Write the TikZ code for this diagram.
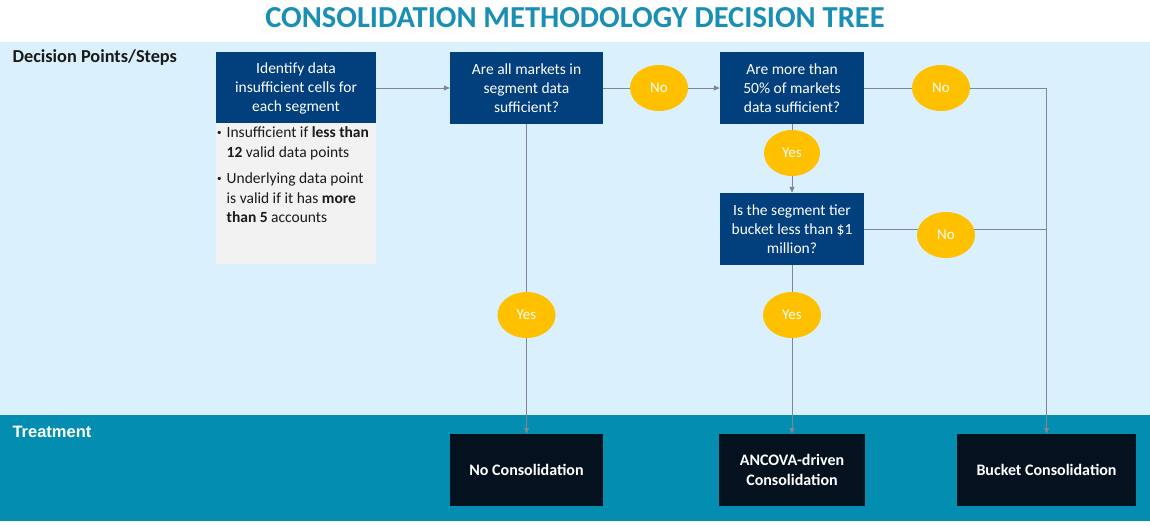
\documentclass[tikz,border=0pt]{standalone}
\usepackage{fontspec}
\setmainfont{Carlito}
\newfontfamily\arialf{Liberation Sans}
\usetikzlibrary{arrows.meta,shapes.geometric}
\definecolor{lightband}{HTML}{DAF0FC}
\definecolor{tealband}{HTML}{028DB1}
\definecolor{titlec}{HTML}{1A8FB5}
\definecolor{dblue}{HTML}{023F7D}
\definecolor{yellowc}{HTML}{FFC000}
\definecolor{blackbox}{HTML}{04111E}
\definecolor{grayfill}{HTML}{F2F2F2}
\definecolor{linec}{HTML}{7F8790}
\definecolor{darktext}{HTML}{1A1A1A}
\newcommand{\smbul}{\raisebox{2pt}{\fontsize{9}{9}\selectfont\textbullet}}
\begin{document}
\begin{tikzpicture}[x=1pt,y=-1pt,
  qbox/.style={fill=dblue, text=white, align=center, minimum height=72pt, inner sep=2pt, font=\fontsize{15.5}{19}\selectfont},
  tbox/.style={fill=blackbox, text=white, align=center, minimum height=72pt, inner sep=2pt, font=\bfseries\fontsize{16}{19.5}\selectfont},
  oval/.style={ellipse, fill=yellowc, text=white, minimum width=58pt, minimum height=46pt, inner sep=0pt, font=\fontsize{15}{17}\selectfont},
  conn/.style={draw=linec, line width=1pt},
  arr/.style={conn, -{Triangle[length=6pt,width=5pt]}}]
\useasboundingbox (0,0) rectangle (1150,525);
\fill[white] (0,0) rectangle (1150,525);
\fill[lightband] (0,42) rectangle (1150,415);
\fill[tealband] (0,415) rectangle (1150,521);

\node[font=\bfseries\fontsize{30.5}{36}\selectfont, text=titlec] (title) at (575,18) {CONSOLIDATION METHODOLOGY DECISION TREE};
\node[anchor=west, font=\bfseries\fontsize{18.3}{22}\selectfont, text=darktext] (lab1) at (9,58) {Decision Points/Steps};
\node[anchor=west, font=\arialf\bfseries\fontsize{16.5}{20}\selectfont, text=white] (lab2) at (9,432) {Treatment};

% boxes
\node[qbox, minimum width=160pt] (b1) at (296,88) {Identify data\\insufficient cells for\\each segment};
\node[fill=grayfill, minimum width=160pt, minimum height=141pt, inner sep=0pt] (g) at (296,193.5) {};
\node[anchor=north west, inner sep=0pt, text=darktext, font=\fontsize{15.5}{19.5}\selectfont] (gt) at (217,124)
 {\begin{tabular}{@{}l@{\hspace{5pt}}l@{}}
  \smbul & Insufficient if \textbf{less than}\\
  & \textbf{12} valid data points\\[7pt]
  \smbul & Underlying data point\\
  & is valid if it has \textbf{more}\\
  & \textbf{than 5} accounts
 \end{tabular}};
\node[qbox, minimum width=153pt] (b2) at (526.5,88) {Are all markets in\\segment data\\sufficient?};
\node[qbox, minimum width=144pt] (b3) at (792,88) {Are more than\\50\% of markets\\data sufficient?};
\node[qbox, minimum width=144pt] (b4) at (792,229) {Is the segment tier\\bucket less than \$1\\million?};

\node[tbox, minimum width=153pt] (nc) at (526.5,470) {No Consolidation};
\node[tbox, minimum width=146pt] (an) at (792,470) {ANCOVA-driven\\Consolidation};
\node[tbox, minimum width=179pt] (bk) at (1046.5,470) {Bucket Consolidation};

% connectors
\draw[arr] (b1.east) -- (b2.west);
\draw[arr] (b2.east) -- (b3.west);
\draw[arr] (b3.east) -| (bk.north);
\draw[conn] (b4.east) -- (b4.east -| bk.north);
\draw[arr] (b3.south) -- (b4.north);
\draw[arr] (b2.south) -- (nc.north);
\draw[arr] (b4.south) -- (an.north);

% ovals
\node[oval] (no1) at (659,88) {No};
\node[oval] (no2) at (941,88) {No};
\node[oval, minimum width=56pt] (yes1) at (792,153) {Yes};
\node[oval] (no3) at (946,235) {No};
\node[oval] (yes2) at (526.5,315) {Yes};
\node[oval] (yes3) at (792,315) {Yes};
\end{tikzpicture}
\end{document}
